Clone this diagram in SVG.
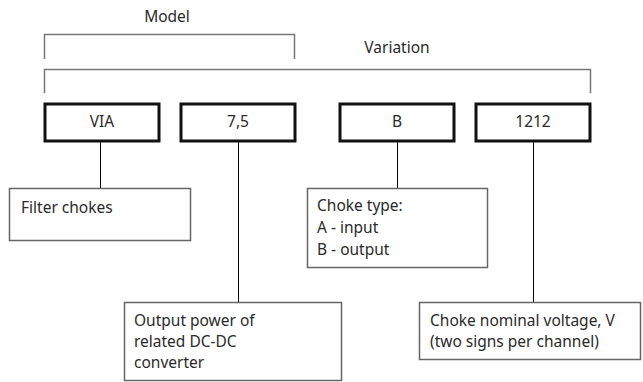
<svg xmlns="http://www.w3.org/2000/svg" width="643" height="382" viewBox="0 0 643 382">
<style>
text{font-family:"Noto Sans","Open Sans","DejaVu Sans",sans-serif;font-size:15.5px;fill:#2a2a2a}
.c{text-anchor:middle}
.br{fill:none;stroke:#777;stroke-width:1.5}
.code{fill:#fff;stroke:#111;stroke-width:3}
.note{fill:#fff;stroke:#666;stroke-width:1.5}
.ln{stroke:#000;stroke-width:1;fill:none}
</style>
<rect width="643" height="382" fill="#fff"/>
<g id="model">
<path class="br" d="M44.5 59V34.5H294.5V59"/>
<text class="c" x="167" y="22">Model</text>
</g>
<g id="variation">
<path class="br" d="M44.5 93V69.5H590.5V93"/>
<text class="c" x="397" y="53">Variation</text>
</g>
<g id="connectors">
<path class="ln" d="M100.5 141V188M238.5 141V302M397.5 141V188M533.5 141V302"/>
</g>
<g id="via"><rect class="code" x="45" y="104" width="114" height="37"/><text class="c" x="102" y="127">VIA</text></g>
<g id="power"><rect class="code" x="181" y="104" width="114" height="37"/><text class="c" x="238" y="127">7,5</text></g>
<g id="type"><rect class="code" x="340" y="104" width="114" height="37"/><text class="c" x="397" y="127">B</text></g>
<g id="voltage"><rect class="code" x="476" y="104" width="114" height="37"/><text class="c" x="533" y="127">1212</text></g>
<g id="n-filter"><rect class="note" x="9.5" y="188.5" width="181" height="52"/><text x="21" y="213">Filter chokes</text></g>
<g id="n-type"><rect class="note" x="307.5" y="188.5" width="180" height="79"/>
<text x="317" y="211">Choke type:</text><text x="317" y="233">A - input</text><text x="317" y="255">B - output</text></g>
<g id="n-power"><rect class="note" x="124.5" y="302.5" width="217" height="78"/>
<text x="134" y="326">Output power of</text><text x="134" y="347">related DC-DC</text><text x="134" y="368">converter</text></g>
<g id="n-voltage"><rect class="note" x="419.5" y="302.5" width="221" height="57"/>
<text x="430" y="326">Choke nominal voltage, V</text><text x="430" y="347">(two signs per channel)</text></g>
</svg>
